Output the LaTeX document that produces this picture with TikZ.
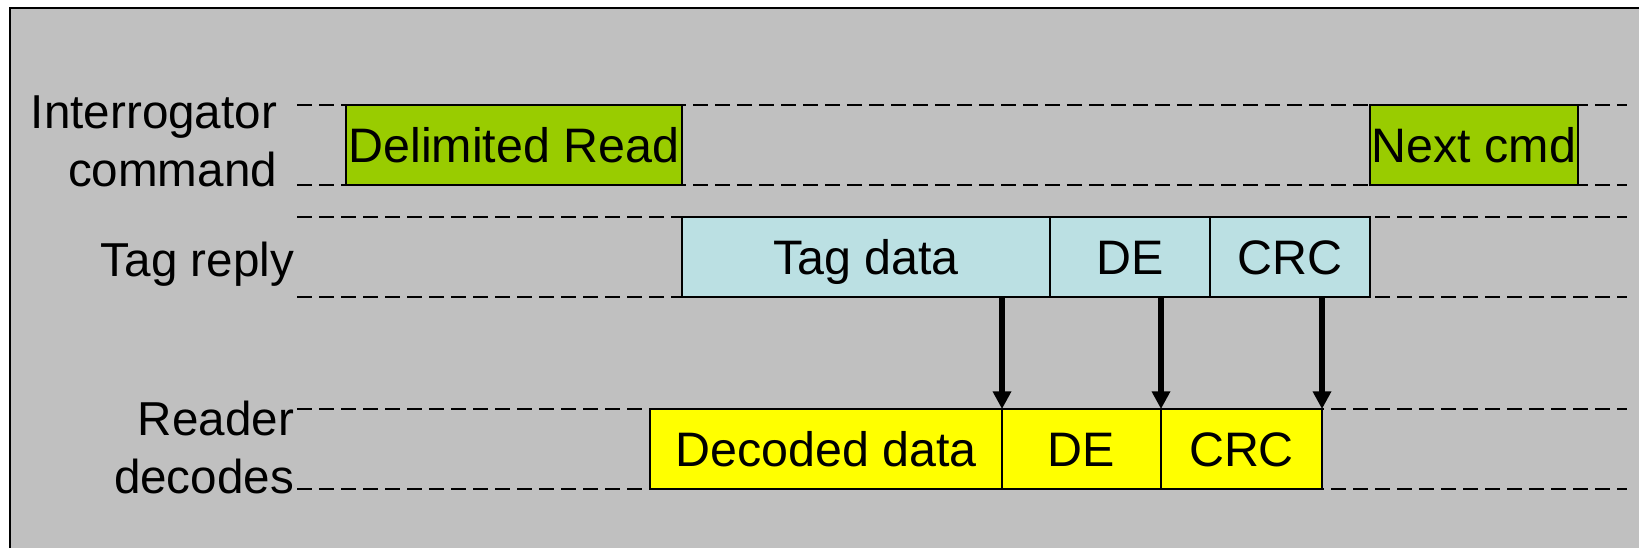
\documentclass[tikz,border=0pt]{standalone}
\usepackage{fontspec}
\setmainfont{Liberation Sans}
\usetikzlibrary{arrows.meta}
\definecolor{bggray}{RGB}{192,192,192}
\definecolor{cmdgreen}{RGB}{153,204,0}
\definecolor{taglightblue}{RGB}{187,224,227}
\definecolor{decyellow}{RGB}{255,255,0}
\begin{document}
\begin{tikzpicture}[x=0.5pt,y=-0.5pt,
  lbl/.style={font=\fontsize{23.8pt}{29pt}\selectfont, inner sep=0pt, outer sep=0pt, align=right},
  seg/.style={draw=black, line width=1pt, inner sep=0pt, outer sep=0pt, anchor=north west,
    minimum height=39.75pt, font=\fontsize{24.2pt}{29pt}\selectfont, text height=17.3pt, text depth=0pt},
  timeline/.style={draw=black, line width=1pt, dash pattern=on 7.5pt off 3.5pt},
  decarrow/.style={draw=black, line width=2.7pt, -{Triangle[width=8.8pt,length=8.8pt]}}
]
\useasboundingbox (0,0) rectangle (1639,548);
\fill[white] (0,0) rectangle (1639,548);
\fill[bggray] (10,8.3) rectangle (1639,548);
\draw[line width=1pt] (10,548) -- (10,8.3) -- (1639,8.3);

% time lines
\foreach \yy in {105,184.5,217,296.5,409,488.5}
  \draw[timeline] (297,\yy) -- (1627,\yy);

% labels (base = baseline of the last line)
\node[lbl, anchor=base east] (lint) at (277,186.7) {Interrogator\\command};
\node[lbl, anchor=base east] (ltag) at (294,276) {Tag reply};
\node[lbl, anchor=base east] (lrd) at (294,493) {Reader\\decodes};

% interrogator commands
\node[seg, fill=cmdgreen, minimum width=336*0.5pt] (dr) at (346,105) {Delimited Read};
\node[seg, fill=cmdgreen, minimum width=208*0.5pt] (nc) at (1370,105) {Next cmd};

% tag reply
\node[seg, fill=taglightblue, minimum width=368*0.5pt] (td) at (682,217) {Tag data};
\node[seg, fill=taglightblue, minimum width=160*0.5pt] (tde) at (1050,217) {DE};
\node[seg, fill=taglightblue, minimum width=160*0.5pt] (tcrc) at (1210,217) {CRC};

% reader decodes
\node[seg, fill=decyellow, minimum width=352*0.5pt] (dd) at (650,409) {Decoded data};
\node[seg, fill=decyellow, minimum width=159*0.5pt] (dde) at (1002,409) {DE};
\node[seg, fill=decyellow, minimum width=161*0.5pt] (dcrc) at (1161,409) {CRC};

% arrows
\draw[decarrow] (dd.north east |- td.south) -- (dd.north east);
\draw[decarrow] (dde.north east |- td.south) -- (dde.north east);
\draw[decarrow] (dcrc.north east |- td.south) -- (dcrc.north east);
\end{tikzpicture}
\end{document}
